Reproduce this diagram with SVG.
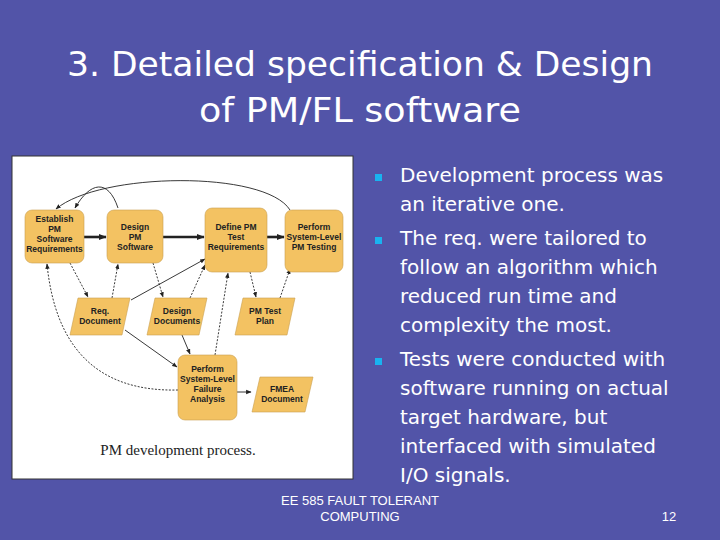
<svg xmlns="http://www.w3.org/2000/svg" width="720" height="540" viewBox="0 0 720 540">
<style>
.t{font-family:"DejaVu Sans",Verdana,sans-serif;fill:#fff}
.b{font-family:"DejaVu Sans",Verdana,sans-serif;fill:#fff;font-size:20px}
.f{font-family:"Liberation Sans",Arial,sans-serif;fill:#fff;font-size:13px}
.n{fill:#F3C262;stroke:#c9a050;stroke-width:0.6}
.l{font-family:"Liberation Sans",Arial,sans-serif;font-weight:bold;font-size:8.5px;fill:#222;text-anchor:middle}
.c{fill:none;stroke:#222;stroke-width:0.9}
.d{stroke-dasharray:2,1.5}
.k{stroke-width:2.6}
.q{fill:#19B3F0}
</style>
<defs>
<marker id="a" viewBox="0 0 10 10" refX="9" refY="5" markerWidth="6" markerHeight="6" orient="auto"><path d="M0,1 L10,5 L0,9 z" fill="#222"/></marker>
<marker id="ak" viewBox="0 0 10 10" refX="9" refY="5" markerWidth="3" markerHeight="3" orient="auto"><path d="M0,1 L10,5 L0,9 z" fill="#222"/></marker>
</defs>
<rect width="720" height="540" fill="#5254A8"/>
<text class="t" x="360" y="76" font-size="34" text-anchor="middle" textLength="586" lengthAdjust="spacingAndGlyphs">3. Detailed specification &amp; Design</text>
<text class="t" x="360" y="122" font-size="34" text-anchor="middle" textLength="322" lengthAdjust="spacingAndGlyphs">of PM/FL software</text>
<rect x="12" y="156" width="341" height="323" fill="#fff" stroke="#333" stroke-width="1"/>
<g id="connectors" marker-end="url(#a)">
<path class="c k" d="M84,237 L106,237" marker-end="url(#ak)"/>
<path class="c k" d="M163,237 L204,237" marker-end="url(#ak)"/>
<path class="c k" d="M267,237 L284,237" marker-end="url(#ak)"/>
<path class="c d" d="M70,263 L88,297"/>
<path class="c d" d="M112,298 L118,264"/>
<path class="c d" d="M153,263 L163,297"/>
<path class="c d" d="M190,298 L205,265"/>
<path class="c" d="M131,300 L205,259"/>
<path class="c d" d="M250,272 L256,297"/>
<path class="c d" d="M280,298 L290,269"/>
<path class="c" d="M125,330 L177,367"/>
<path class="c" d="M182,335 L190,354"/>
<path class="c d" d="M215,355 L228,273"/>
<path class="c" d="M237,392 L251,392"/>
<path class="c d" d="M178,390 C95,392 55,345 47,264"/>
<path class="c" d="M118,208 C108,178 90,182 75,208"/>
<path class="c" d="M290,210 C265,170 100,172 56,209"/>
</g>
<g id="establish"><rect class="n" x="25" y="210" width="59" height="53" rx="7"/><text class="l" x="54.5" y="222">Establish<tspan x="54.5" dy="10">PM</tspan><tspan x="54.5" dy="10">Software</tspan><tspan x="54.5" dy="10">Requirements</tspan></text></g>
<g id="design"><rect class="n" x="107" y="210" width="56" height="53" rx="7"/><text class="l" x="135" y="230">Design<tspan x="135" dy="10">PM</tspan><tspan x="135" dy="10">Software</tspan></text></g>
<g id="define"><rect class="n" x="205" y="208" width="62" height="64" rx="7"/><text class="l" x="236" y="230">Define PM<tspan x="236" dy="10">Test</tspan><tspan x="236" dy="10">Requirements</tspan></text></g>
<g id="perform"><rect class="n" x="285" y="210" width="58" height="62" rx="7"/><text class="l" x="314" y="230">Perform<tspan x="314" dy="10">System-Level</tspan><tspan x="314" dy="10">PM Testing</tspan></text></g>
<g id="reqdoc"><path class="n" d="M78,298 L130,298 L122,335 L70,335 z"/><text class="l" x="100" y="314">Req.<tspan x="100" dy="10">Document</tspan></text></g>
<g id="designdocs"><path class="n" d="M155,298 L207,298 L199,335 L147,335 z"/><text class="l" x="177" y="314">Design<tspan x="177" dy="10">Documents</tspan></text></g>
<g id="testplan"><path class="n" d="M243,298 L295,298 L287,335 L235,335 z"/><text class="l" x="265" y="314">PM Test<tspan x="265" dy="10">Plan</tspan></text></g>
<g id="failure"><rect class="n" x="178" y="355" width="59" height="65" rx="7"/><text class="l" x="207.5" y="372">Perform<tspan x="207.5" dy="10">System-Level</tspan><tspan x="207.5" dy="10">Failure</tspan><tspan x="207.5" dy="10">Analysis</tspan></text></g>
<g id="fmea"><path class="n" d="M260,377 L313,377 L305,412 L252,412 z"/><text class="l" x="282" y="392">FMEA<tspan x="282" dy="10">Document</tspan></text></g>
<text x="178" y="455" font-family="Liberation Serif,serif" font-size="15" fill="#222" text-anchor="middle">PM development process.</text>
<rect class="q" x="375" y="174" width="7" height="7"/>
<rect class="q" x="375" y="237" width="7" height="7"/>
<rect class="q" x="375" y="358" width="7" height="7"/>
<text class="b"><tspan x="400" y="182">Development process was</tspan><tspan x="400" y="211">an iterative one.</tspan><tspan x="400" y="245">The req. were tailored to</tspan><tspan x="400" y="274">follow an algorithm which</tspan><tspan x="400" y="303">reduced run time and</tspan><tspan x="400" y="332">complexity the most.</tspan><tspan x="400" y="366">Tests were conducted with</tspan><tspan x="400" y="395">software running on actual</tspan><tspan x="400" y="424">target hardware, but</tspan><tspan x="400" y="453">interfaced with simulated</tspan><tspan x="400" y="482">I/O signals.</tspan></text>
<text class="f" x="360" y="505" text-anchor="middle">EE 585 FAULT TOLERANT</text>
<text class="f" x="360" y="521" text-anchor="middle">COMPUTING</text>
<text class="f" x="669" y="521" text-anchor="middle">12</text>
</svg>
